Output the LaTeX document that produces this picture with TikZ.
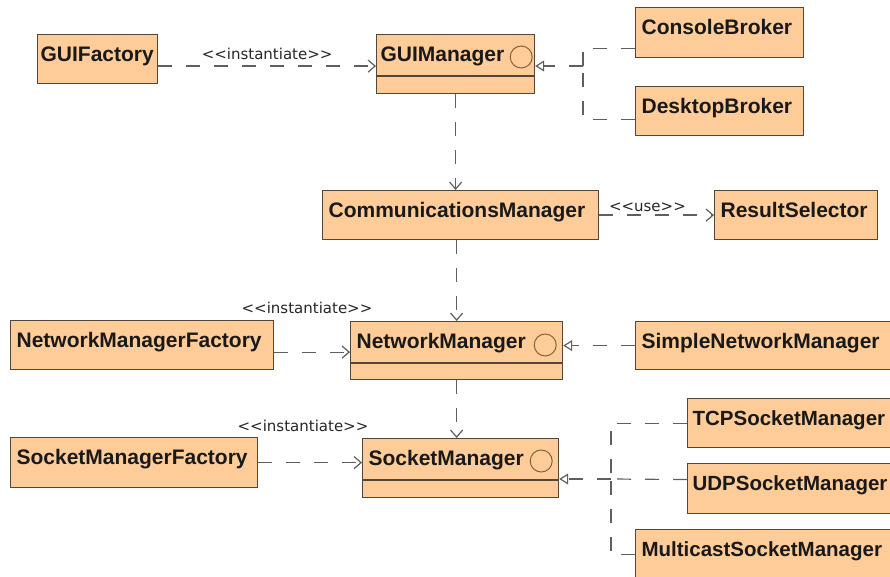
\documentclass[tikz,border=0pt]{standalone}
\usepackage{fontspec}
\setmainfont{Liberation Sans}
\newfontfamily\lblfont{DejaVu Sans}
\usetikzlibrary{arrows.meta,positioning}

\definecolor{clsfill}{RGB}{253,204,153}
\definecolor{clsline}{RGB}{85,70,55}
\definecolor{conline}{RGB}{95,95,95}
\definecolor{iconline}{RGB}{130,100,60}

% stereotype text, kept apart so << does not turn into a guillemet
\newcommand\stype[1]{<\kern0pt<#1>\kern0pt>}

\tikzset{
  cls/.style={draw=clsline, fill=clsfill, line width=1.2pt, anchor=north west,
    font=\bfseries\fontsize{21}{25}\selectfont, text=black!90,
    inner xsep=6pt, inner ysep=0pt, text height=27pt, text depth=22pt, align=left},
  small/.style={font=\bfseries\fontsize{20.5}{25}\selectfont},
  ops/.style={draw=clsline, fill=clsfill, line width=1.2pt, anchor=north west,
    inner sep=0pt, minimum height=17pt},
  iface/.style={circle, draw=iconline, line width=1pt, minimum size=22pt, inner sep=0pt},
  dep/.style={draw=conline, line width=1.2pt, dash pattern=on 14pt off 14pt,
    -{Straight Barb[length=7pt,width=12pt]}},
  real/.style={draw=conline, line width=1.2pt, dash pattern=on 14pt off 14pt},
  gen/.style={-{Triangle[open,length=9pt,width=11pt]}},
  lbl/.style={font=\lblfont\fontsize{15}{18}\selectfont, text=black!85, inner sep=0pt},
}

\begin{document}
\begin{tikzpicture}[x=1pt,y=-1pt]
  \useasboundingbox (0,0) rectangle (890,577);
  \clip (0,0) rectangle (890,577);

  % gui layer
  \node[cls, text width=114pt, inner xsep=3pt] (gf) at (37,34) {GUIFactory};
  \node[cls, text width=150pt, inner xsep=4pt, text depth=14pt] (gm) at (376,34) {GUIManager};
  \node[ops, minimum width=158pt] (gmops) at (gm.south west) {};
  \node[iface] (gmc) at ([xshift=-14pt,yshift=-23pt]gm.north east) {};
  \node[cls, text width=156pt, text depth=23pt] (cb) at (635,7) {ConsoleBroker};
  \node[cls, text width=156pt] (db) at (635,86) {DesktopBroker};

  \node[cls, text width=264pt] (cm) at (322,190) {CommunicationsManager};
  \node[cls, text width=151pt] (rs) at (714,190) {ResultSelector};

  % network layer
  \node[cls, text width=251pt] (nmf) at (10,320) {NetworkManagerFactory};
  \node[cls, text width=200pt, text depth=14pt] (nm) at (350,321) {NetworkManager};
  \node[ops, minimum width=212pt, minimum height=16pt] (nmops) at (nm.south west) {};
  \node[iface] (nmc) at ([xshift=-18pt,yshift=-24pt]nm.north east) {};
  \node[cls, text width=250pt, text depth=21pt] (snm) at (635,321) {SimpleNetworkManager};

  % socket layer
  \node[cls, text width=235pt, text depth=23pt] (smf) at (10,437) {SocketManagerFactory};
  \node[cls, text width=184pt, text depth=14pt] (sm) at (362,438) {SocketManager};
  \node[ops, minimum width=196pt] (smops) at (sm.south west) {};
  \node[iface] (smc) at ([xshift=-18pt,yshift=-23pt]sm.north east) {};
  \node[cls, small, text width=206pt, inner xsep=5pt] (tcp) at (687,398) {TCPSocketManager};
  \node[cls, small, text width=206pt, inner xsep=5pt, text depth=23pt] (udp) at (687,463) {UDPSocketManager};
  \node[cls, small, text width=250pt, text depth=23pt] (msm) at (635,529) {MulticastSocketManager};

  % dependencies
  \draw[dep] ([yshift=-7pt]gf.east) -- ([yshift=-7pt]gf.east -| gm.west)
    node[lbl, midway, above=6pt] (lgui) {\stype{instantiate}};
  \draw[dep] (gmops.south) -- (gmops.south |- cm.north);
  \draw[dep] (cm.east) -- (rs.west)
    node[lbl, pos=0.42, above=3pt] (luse) {\stype{use}};
  \draw[dep] (cm.south -| nm.north) -- (nm.north);
  \draw[dep] ([yshift=-7pt]nmf.east) -- ([yshift=-7pt]nmf.east -| nm.west);
  \node[lbl] (lnet) at (307,308) {\stype{instantiate}};
  \draw[dep] (nmops.south) -- (nmops.south |- sm.north);
  \draw[dep] (smf.east) -- (smf.east -| sm.west);
  \node[lbl] (lsock) at (303,426) {\stype{instantiate}};

  % realizations
  \coordinate (gjoin) at (583,66);
  \draw[real] ([yshift=10pt]cb.south west) -| (gjoin);
  \draw[real] ([yshift=17pt]db.south west) -| (gjoin);
  \draw[real, gen] (gjoin) -- (gjoin -| gm.east);

  \draw[real, gen] (snm.west) -- (snm.west -| nm.east);

  \coordinate (sjoin) at (611,479);
  \draw[real] (tcp.west) -| (sjoin);
  \draw[real] ([yshift=9pt]udp.west) -- (sjoin);
  \draw[real] (msm.west) -| (sjoin);
  \draw[real, gen] (sjoin) -- (sjoin -| sm.east);
\end{tikzpicture}
\end{document}
